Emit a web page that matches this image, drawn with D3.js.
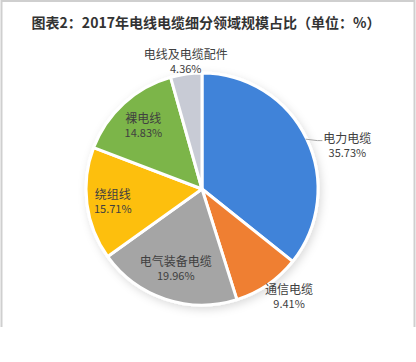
<!DOCTYPE html>
<html>
<head>
<meta charset="utf-8">
<script src="https://cdn.jsdelivr.net/npm/d3@7"></script>
<style>
  html, body { margin: 0; padding: 0; background: #fff; }
  svg { display: block; font-family: "Noto Sans CJK SC", "Noto Sans", sans-serif; }
</style>
</head>
<body>
<div id="chart"></div>
<script>
// --- data ---
const titleText = "图表2：2017年电线电缆细分领域规模占比（单位：%）";
const segments = ["电力电缆", "通信电缆", "电气装备电缆", "绕组线", "裸电线", "电线及电缆配件"];
const shares   = [35.73, 9.41, 19.96, 15.71, 14.83, 4.36];
const colours  = ["#3f83d9", "#ef7f31", "#a5a5a5", "#fdbf0f", "#7cb548", "#c8cbd5"];

// label placement (radius from centre, angle shift in degrees), like the excel layout
const labelPlace = [
  {r: 152, da: 8.7, leader: true},
  {r: 138, da: -4.7},
  {r: 83,  da: 0},
  {r: 90,  da: 0},
  {r: 87,  da: 0},
  {r: 129, da: 0.6}
];

const width = 416, height = 362;
const cx = 202, cy = 189, R = 116;

const svg = d3.select("#chart").append("svg")
  .attr("width", width).attr("height", height);

const defs = svg.append("defs");
const shadow = defs.append("filter").attr("id", "pie-shadow")
  .attr("x", "-20%").attr("y", "-20%").attr("width", "140%").attr("height", "140%");
shadow.append("feDropShadow")
  .attr("dx", 2).attr("dy", 3).attr("stdDeviation", 4)
  .attr("flood-color", "#000").attr("flood-opacity", 0.14);

// frame (no bottom edge in the original)
svg.append("path")
  .attr("d", "M1.5,327V1H414.5V327")
  .attr("fill", "none")
  .attr("stroke", "#cfcfcf")
  .attr("stroke-width", 2);

svg.append("text")
  .attr("x", 206).attr("y", 28)
  .attr("text-anchor", "middle")
  .attr("font-size", 14)
  .attr("font-weight", "bold")
  .attr("fill", "#333")
  .text(titleText);

const table = segments.map((name, i) => ({name, value: shares[i], colour: colours[i], place: labelPlace[i]}));

const pie = d3.pie().sort(null).value(d => d.value);
const arcs = pie(table);
const arcGen = d3.arc().innerRadius(0).outerRadius(R);

const g = svg.append("g").attr("transform", `translate(${cx},${cy})`);

g.append("g")
  .attr("filter", "url(#pie-shadow)")
  .selectAll("path")
  .data(arcs)
  .join("path")
    .attr("d", arcGen)
    .attr("fill", d => d.data.colour)
    .attr("stroke", "#fff")
    .attr("stroke-width", 3)
    .attr("stroke-linejoin", "round");

function polar(r, a) {
  return [r * Math.sin(a), -r * Math.cos(a)];
}

const labels = g.append("g").selectAll("g")
  .data(arcs)
  .join("g")
    .attr("transform", d => {
      const mid = (d.startAngle + d.endAngle) / 2 + d.data.place.da * Math.PI / 180;
      const [x, y] = polar(d.data.place.r, mid);
      return `translate(${x},${y})`;
    });

labels.append("text")
  .attr("class", "name")
  .attr("text-anchor", "middle")
  .attr("y", -2)
  .attr("font-size", 12)
  .attr("fill", "#404040")
  .text(d => d.data.name);

labels.append("text")
  .attr("text-anchor", "middle")
  .attr("y", 12)
  .attr("font-size", 11)
  .attr("fill", "#404040")
  .text(d => d.data.value.toFixed(2) + "%");

// leader line for the big slice
arcs.filter(d => d.data.place.leader).forEach(d => {
  const mid = (d.startAngle + d.endAngle) / 2;
  const [sx, sy] = polar(R - 1, mid);
  const [lx, ly] = polar(d.data.place.r, mid + d.data.place.da * Math.PI / 180);
  const w = labels.filter(e => e === d).select("text.name").node().getComputedTextLength();
  const left = lx - w / 2;
  g.append("path")
    .attr("d", d3.line()([[sx, sy], [left - 6, ly - 4], [left - 1, ly - 4]]))
    .attr("fill", "none")
    .attr("stroke", "#a6a6a6")
    .attr("stroke-width", 1);
});
</script>
</body>
</html>
